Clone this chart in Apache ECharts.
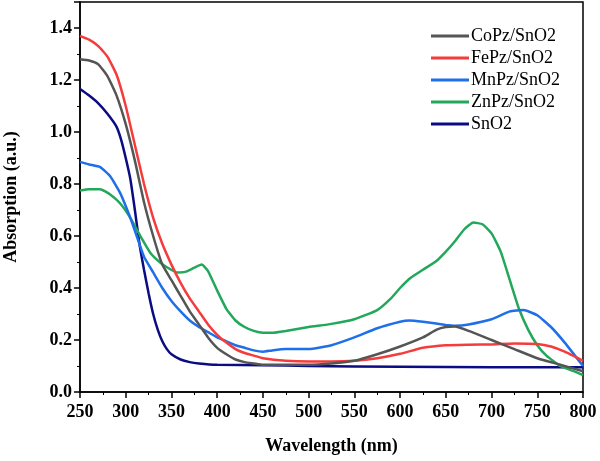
<!DOCTYPE html>
<html>
<head>
<meta charset="utf-8">
<script src="https://cdn.jsdelivr.net/npm/echarts@6/dist/echarts.min.js"></script>
<style>
  html, body { margin: 0; padding: 0; background: #fff; }
  #main { width: 600px; height: 461px; }
</style>
</head>
<body>
<div id="main"></div>
<script>
// [wavelength nm, absorption]
const coPz = [
    [250, 1.28], [260, 1.275], [270, 1.26], [280, 1.215], [290, 1.14], [300, 1.03], [310, 0.89],
    [320, 0.73], [330, 0.60], [340, 0.49], [350, 0.43], [360, 0.37], [370, 0.31], [380, 0.26],
    [390, 0.21], [400, 0.17], [410, 0.145], [420, 0.125], [430, 0.115], [440, 0.11], [450, 0.105],
    [500, 0.105], [525, 0.11], [550, 0.12], [575, 0.145], [600, 0.175], [625, 0.21], [640, 0.24],
    [650, 0.25], [660, 0.252], [675, 0.235], [700, 0.20], [725, 0.165], [750, 0.13], [775, 0.105],
    [800, 0.08]
];
const fePz = [
    [250, 1.37], [260, 1.355], [270, 1.33], [280, 1.29], [290, 1.22], [300, 1.10], [310, 0.95],
    [320, 0.80], [330, 0.67], [340, 0.57], [350, 0.49], [360, 0.42], [370, 0.36], [380, 0.31],
    [390, 0.26], [400, 0.22], [410, 0.19], [420, 0.165], [430, 0.15], [440, 0.14], [450, 0.13],
    [475, 0.12], [500, 0.117], [525, 0.117], [550, 0.12], [575, 0.13], [600, 0.147], [625, 0.17],
    [650, 0.18], [675, 0.182], [700, 0.183], [725, 0.187], [750, 0.185], [765, 0.175], [780, 0.155],
    [800, 0.12]
];
const mnPz = [
    [250, 0.885], [260, 0.875], [272, 0.865], [283, 0.83], [294, 0.765], [305, 0.67], [312, 0.60],
    [320, 0.52], [330, 0.46], [340, 0.40], [350, 0.35], [360, 0.31], [370, 0.275], [380, 0.25],
    [390, 0.23], [400, 0.21], [410, 0.195], [420, 0.18], [430, 0.17], [440, 0.16], [450, 0.155],
    [460, 0.16], [475, 0.165], [500, 0.165], [525, 0.18], [550, 0.21], [575, 0.245], [600, 0.27],
    [610, 0.275], [625, 0.27], [650, 0.258], [660, 0.255], [675, 0.26], [700, 0.28], [720, 0.31],
    [735, 0.315], [750, 0.295], [765, 0.25], [780, 0.19], [800, 0.10]
];
const znPz = [
    [250, 0.775], [260, 0.78], [272, 0.78], [283, 0.76], [294, 0.725], [305, 0.67], [316, 0.60],
    [327, 0.535], [337, 0.50], [345, 0.48], [356, 0.46], [365, 0.462], [375, 0.478], [383, 0.49],
    [390, 0.465], [400, 0.39], [410, 0.32], [420, 0.275], [430, 0.25], [440, 0.235], [450, 0.228],
    [460, 0.228], [475, 0.235], [500, 0.25], [525, 0.262], [550, 0.28], [575, 0.315], [590, 0.36],
    [600, 0.40], [612, 0.44], [625, 0.47], [640, 0.505], [650, 0.54], [660, 0.58], [670, 0.625],
    [680, 0.652], [690, 0.645], [700, 0.61], [710, 0.54], [720, 0.43], [730, 0.32], [740, 0.24],
    [750, 0.18], [760, 0.14], [775, 0.10], [790, 0.08], [800, 0.065]
];
const snO2 = [
    [250, 1.165], [260, 1.14], [270, 1.11], [280, 1.07], [290, 1.02], [295, 0.97], [300, 0.90],
    [305, 0.82], [310, 0.70], [315, 0.57], [320, 0.47], [325, 0.38], [330, 0.30], [335, 0.24],
    [340, 0.195], [345, 0.165], [350, 0.145], [360, 0.125], [370, 0.115], [380, 0.11], [400, 0.105],
    [450, 0.103], [500, 0.10], [600, 0.097], [700, 0.095], [800, 0.095]
];

const names = ['CoPz/SnO2', 'FePz/SnO2', 'MnPz/SnO2', 'ZnPz/SnO2', 'SnO2'];
const colors = ['#555555', '#f53c3c', '#1f6fe8', '#23a75a', '#0b0b82'];
const allData = [coPz, fePz, mnPz, znPz, snO2];

const myChart = echarts.init(document.getElementById('main'));
const font = 'Liberation Serif, Times New Roman, serif';

let option = {
    animation: false,
    color: colors,
    grid: {
        left: 80, right: 17, top: 2, bottom: 69,
        outerBoundsMode: 'none',
        show: true, borderColor: '#000', borderWidth: 1.5
    },
    legend: {
        orient: 'vertical',
        left: 426, top: 22,
        itemWidth: 38, itemHeight: 3, itemGap: 4,
        icon: 'rect',
        textStyle: { fontFamily: font, fontSize: 18, color: '#000', padding: [0, 0, 0, -3] },
        data: names
    },
    xAxis: {
        type: 'value',
        min: 250, max: 800, interval: 50,
        name: 'Wavelength (nm)',
        nameLocation: 'middle', nameGap: 45,
        nameTextStyle: { fontFamily: font, fontSize: 18, fontWeight: 'bold', color: '#000' },
        axisLine: { lineStyle: { color: '#000', width: 1.5 } },
        axisTick: { length: 6, lineStyle: { color: '#000', width: 1.5 } },
        minorTick: { show: true, splitNumber: 2, length: 3, lineStyle: { color: '#000' } },
        axisLabel: { fontFamily: font, fontSize: 18, fontWeight: 'bold', color: '#000', margin: 11 },
        splitLine: { show: false }
    },
    yAxis: {
        type: 'value',
        min: 0, max: 1.5, interval: 0.2,
        name: 'Absorption (a.u.)',
        nameLocation: 'middle', nameGap: 60,
        nameTextStyle: { fontFamily: font, fontSize: 18, fontWeight: 'bold', color: '#000' },
        axisLine: { lineStyle: { color: '#000', width: 1.5 } },
        axisTick: { length: 6, lineStyle: { color: '#000', width: 1.5 } },
        minorTick: { show: true, splitNumber: 2, length: 3, lineStyle: { color: '#000' } },
        axisLabel: {
            fontFamily: font, fontSize: 18, fontWeight: 'bold', color: '#000', margin: 8,
            showMaxLabel: false,
            formatter: v => v.toFixed(1)
        },
        splitLine: { show: false }
    },
    series: names.map((n, i) => ({
        name: n,
        type: 'line',
        data: allData[i],
        smooth: 0.15,
        showSymbol: false,
        lineStyle: { width: 2.5, color: colors[i] },
        z: 10 - i
    }))
};

option && myChart.setOption(option);
</script>
</body>
</html>
